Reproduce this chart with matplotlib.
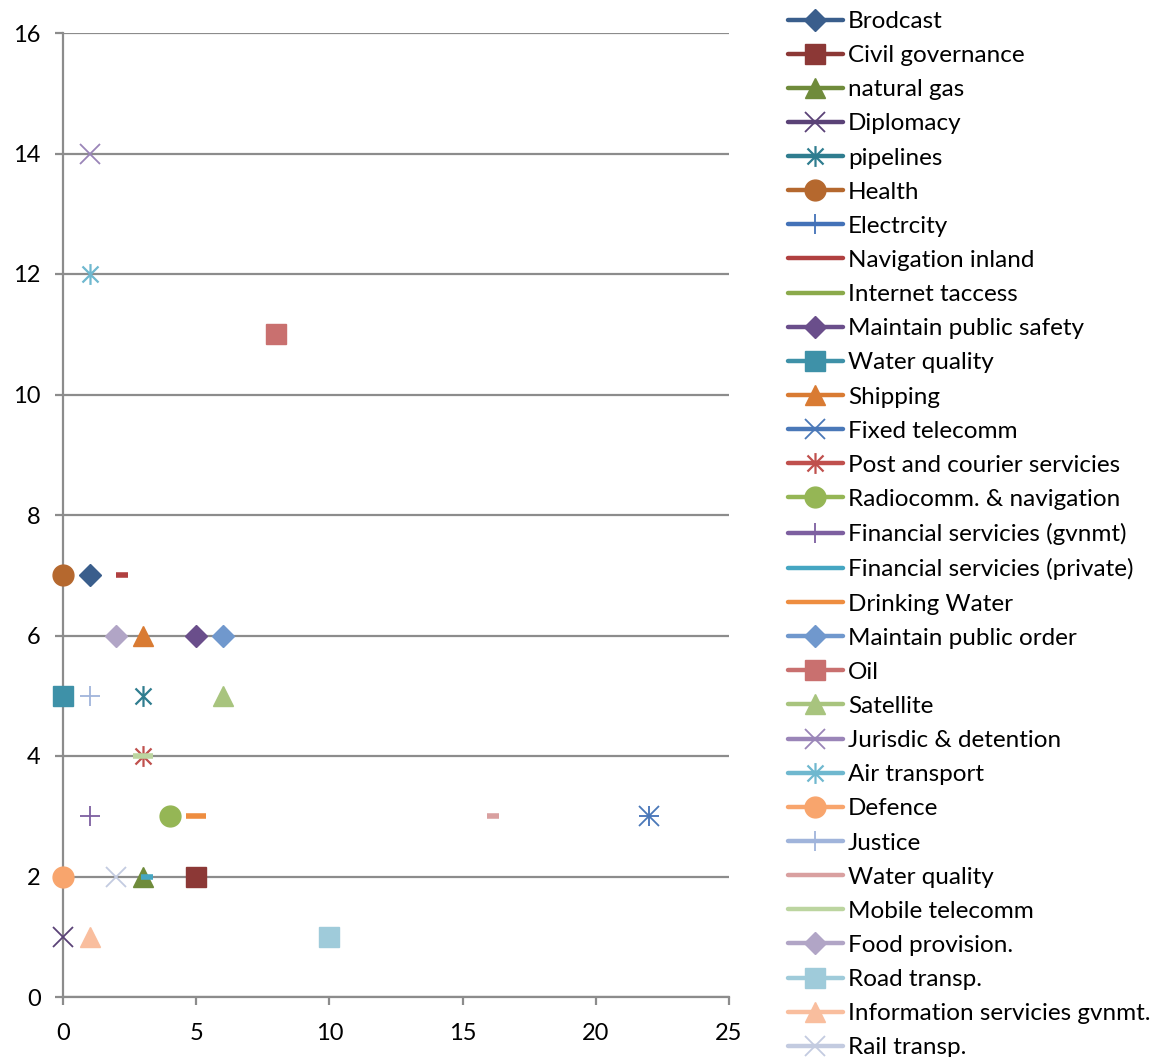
import matplotlib
matplotlib.use("Agg")
import matplotlib.pyplot as plt
from matplotlib.lines import Line2D
from matplotlib.path import Path

plt.rcParams['font.family'] = ['Lato', 'DejaVu Sans']

series_names = [
    "Brodcast", "Civil governance", "natural gas", "Diplomacy", "pipelines",
    "Health", "Electrcity", "Navigation inland", "Internet taccess",
    "Maintain public safety", "Water quality", "Shipping", "Fixed telecomm",
    "Post and courier servicies", "Radiocomm. & navigation",
    "Financial servicies (gvnmt)", "Financial servicies (private)",
    "Drinking Water", "Maintain public order", "Oil", "Satellite",
    "Jurisdic & detention", "Air transport", "Defence", "Justice",
    "Water quality", "Mobile telecomm", "Food provision.", "Road transp.",
    "Information servicies gvnmt.", "Rail transp.",
]
x_vals = [1, 5, 3, 0, 3, 0, 22, 2.2, 4, 5, 0, 3, 22, 3, 4, 1, 3.15, 5, 6, 8,
          6, 1, 1, 0, 1, 16.15, 3, 2, 10, 1, 2]
y_vals = [7, 2, 2, 1, 5, 7, 3, 7, 3, 6, 5, 6, 3, 4, 3, 3, 2, 3, 6, 11,
          5, 14, 12, 2, 5, 3, 4, 6, 1, 1, 2]

colors = [
    "#3A5E8C", "#8C3836", "#6F8B3B", "#5A4277", "#2F7D8F", "#B5682E",
    "#4372B8", "#B04040", "#8BAA4B", "#6A4E8B", "#3E91A8", "#D97B33",
    "#4A78B8", "#C0504D", "#95B655", "#7D5FA0", "#45A6C2", "#EE8D40",
    "#7098CD", "#C9706F", "#A8C47E", "#9A85B8", "#6FB8CF", "#F8A56D",
    "#A0B4DB", "#D9A0A0", "#BCD5A0", "#B1A5C6", "#9FCBDA", "#F9BE9E",
    "#C3CBE0",
]

# asterisk = diagonal cross plus a vertical stroke
star = Path([(-1, -1), (1, 1), (-1, 1), (1, -1), (0, -1.3), (0, 1.3)],
            [Path.MOVETO, Path.LINETO] * 3)

# (marker, size, edge width)
styles = {
    "D": ("D", 11, 1), "s": ("s", 14, 1), "^": ("^", 15, 1),
    "x": ("x", 14, 1.3), "*": (star, 15, 1.6), "o": ("o", 15, 1),
    "+": ("+", 15, 1.3), "-": ("_", 15, 4), "-s": ("_", 8, 4),
}
kinds = ["D", "s", "^", "x", "*", "o", "+", "-s", "-", "D", "s", "^", "x",
         "*", "o", "+", "-s", "-", "D", "s", "^", "x", "*", "o", "+", "-s",
         "-", "D", "s", "^", "x"]

fig = plt.figure(figsize=(11.57, 10.57), dpi=100)
ax = fig.add_axes([63 / 1157, 1 - 997 / 1057, 666 / 1157, 964 / 1057])

handles = []
for i, name in enumerate(series_names):
    mk, ms, mew = styles[kinds[i]]
    filled = kinds[i] in ("D", "s", "^", "o")
    ax.plot([x_vals[i]], [y_vals[i]], linestyle="none", marker=mk,
            markersize=ms, color=colors[i], markeredgecolor=colors[i],
            markeredgewidth=mew, zorder=3 + i * 0.01, clip_on=False)
    lmk = None if kinds[i] in ("-", "-s") else mk
    handles.append(Line2D([0], [0], color=colors[i], lw=3.2,
                          solid_capstyle="round", marker=lmk, markersize=ms,
                          markeredgecolor=colors[i], markeredgewidth=mew,
                          markerfacecolor=colors[i] if filled else "none",
                          label=name))

ax.set_xlim(0, 25)
ax.set_ylim(0, 16)
ax.set_xticks(range(0, 26, 5))
ax.set_yticks(range(0, 17, 2))
ax.yaxis.grid(True, color="#8C8C8C", lw=1.6)
ax.set_axisbelow(True)
for side in ("top", "right"):
    ax.spines[side].set_visible(False)
for side in ("left", "bottom"):
    ax.spines[side].set_color("#8C8C8C")
    ax.spines[side].set_linewidth(1.6)
ax.tick_params(axis="both", colors="#8C8C8C", width=1.6, length=6,
               labelcolor="black", labelsize=17)
ax.tick_params(axis="y", pad=10)
ax.tick_params(axis="x", pad=13)

fig.legend(handles=handles, loc="upper left",
           bbox_to_anchor=(788 / 1157, 1 - 11 / 1057),
           frameon=False, fontsize=17.5, handlelength=2.26,
           handletextpad=0.2, labelspacing=0.54, borderaxespad=0,
           borderpad=0)

fig.savefig("out.png", dpi=100)
